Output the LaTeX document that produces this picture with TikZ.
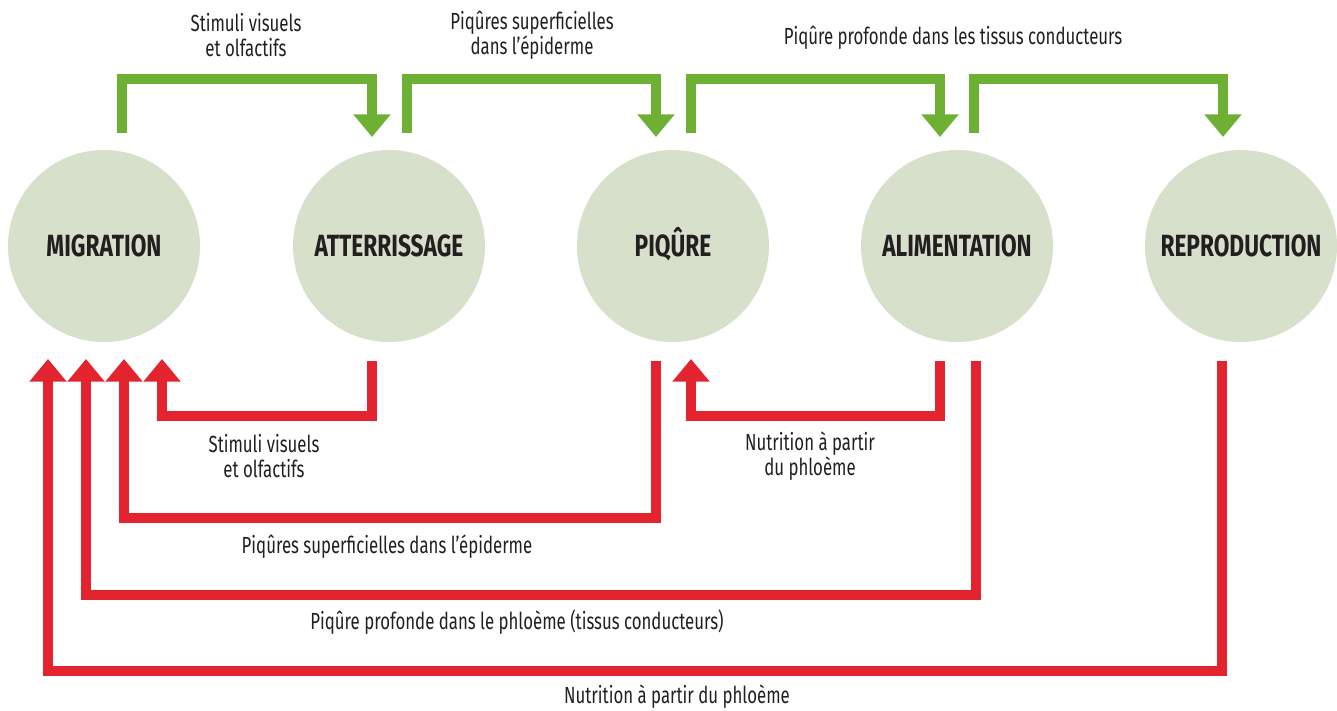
\documentclass[tikz,border=0pt]{standalone}
\usepackage{fontspec}
\setmainfont[FakeStretch=0.72]{Fira Sans}
\newfontfamily\stagefont[FakeStretch=0.74]{Fira Sans}
\usetikzlibrary{arrows.meta,calc}
\definecolor{circfill}{RGB}{215,224,202}
\definecolor{grn}{RGB}{110,176,52}
\definecolor{rd}{RGB}{227,36,47}
\definecolor{txt}{RGB}{35,31,32}
\begin{document}
\begin{tikzpicture}[x=0.75pt,y=-0.75pt,
  stage/.style={circle,fill=circfill,minimum size=144pt,inner sep=0pt,text=txt,text height=15.8pt,text depth=0pt,font=\stagefont\fontsize{23}{26}\selectfont\bfseries},
  lbl/.style={text=txt,align=center,font=\fontsize{17.5}{18.5}\selectfont,inner sep=0pt},
  garrow/.style={draw=grn,line width=7.5pt,-{Triangle[width=27pt,length=17pt]}},
  rarrow/.style={draw=rd,line width=7.5pt,-{Triangle[width=27pt,length=17pt]}}]
\useasboundingbox (0,0) rectangle (1337,710);
\node[stage] (m)  at (104,246)  {MIGRATION};
\node[stage] (a)  at (389,246)  {ATTERRISSAGE};
\node[stage] (p)  at (673,246)  {PIQÛRE};
\node[stage] (al) at (957,246)  {ALIMENTATION};
\node[stage] (r)  at (1241,246) {REPRODUCTION};
% green arrows
\draw[garrow] ($(m)+(18,-113)$) -- ++(0,-54) -| ($(a)+(-17,-109)$);
\draw[garrow] ($(a)+(18,-113)$) -- ++(0,-54) -| ($(p)+(-17,-109)$);
\draw[garrow] ($(p)+(18,-113)$) -- ++(0,-54) -| ($(al)+(-17,-109)$);
\draw[garrow] ($(al)+(17,-113)$) -- ++(0,-54) -| ($(r)+(-18,-109)$);
% red arrows
\coordinate (s1) at ($(a)+(-17,115)$);
\coordinate (s2) at ($(p)+(-17,115)$);
\coordinate (s3) at ($(al)+(19,115)$);
\coordinate (s4) at ($(r)+(-19,115)$);
\coordinate (s5) at ($(al)+(-17,115)$);
\draw[rarrow] (s1) -- ++(0,55)  -| ($(m)+(58,113)$);
\draw[rarrow] (s2) -- ++(0,157) -| ($(m)+(20,113)$);
\draw[rarrow] (s3) -- ++(0,234) -| ($(m)+(-18,113)$);
\draw[rarrow] (s4) -- ++(0,310) -| ($(m)+(-56,113)$);
\draw[rarrow] (s5) -- ++(0,55)  -| ($(p)+(18,113)$);
% labels
\node[lbl] (l1) at (246,35) {Stimuli visuels\\et olfactifs};
\node[lbl] (l2) at (532,35) {Piqûres superficielles\\dans l’épiderme};
\node[lbl] (l3) at (953,38) {Piqûre profonde dans les tissus conducteurs};
\node[lbl] (l4) at (264,456) {Stimuli visuels\\et olfactifs};
\node[lbl] (l5) at (810,456) {Nutrition à partir\\du phloème};
\node[lbl] (l6) at (387,547) {Piqûres superficielles dans l’épiderme};
\node[lbl] (l7) at (517,622) {Piqûre profonde dans le phloème (tissus conducteurs)};
\node[lbl] (l8) at (677,697) {Nutrition à partir du phloème};
\end{tikzpicture}
\end{document}
